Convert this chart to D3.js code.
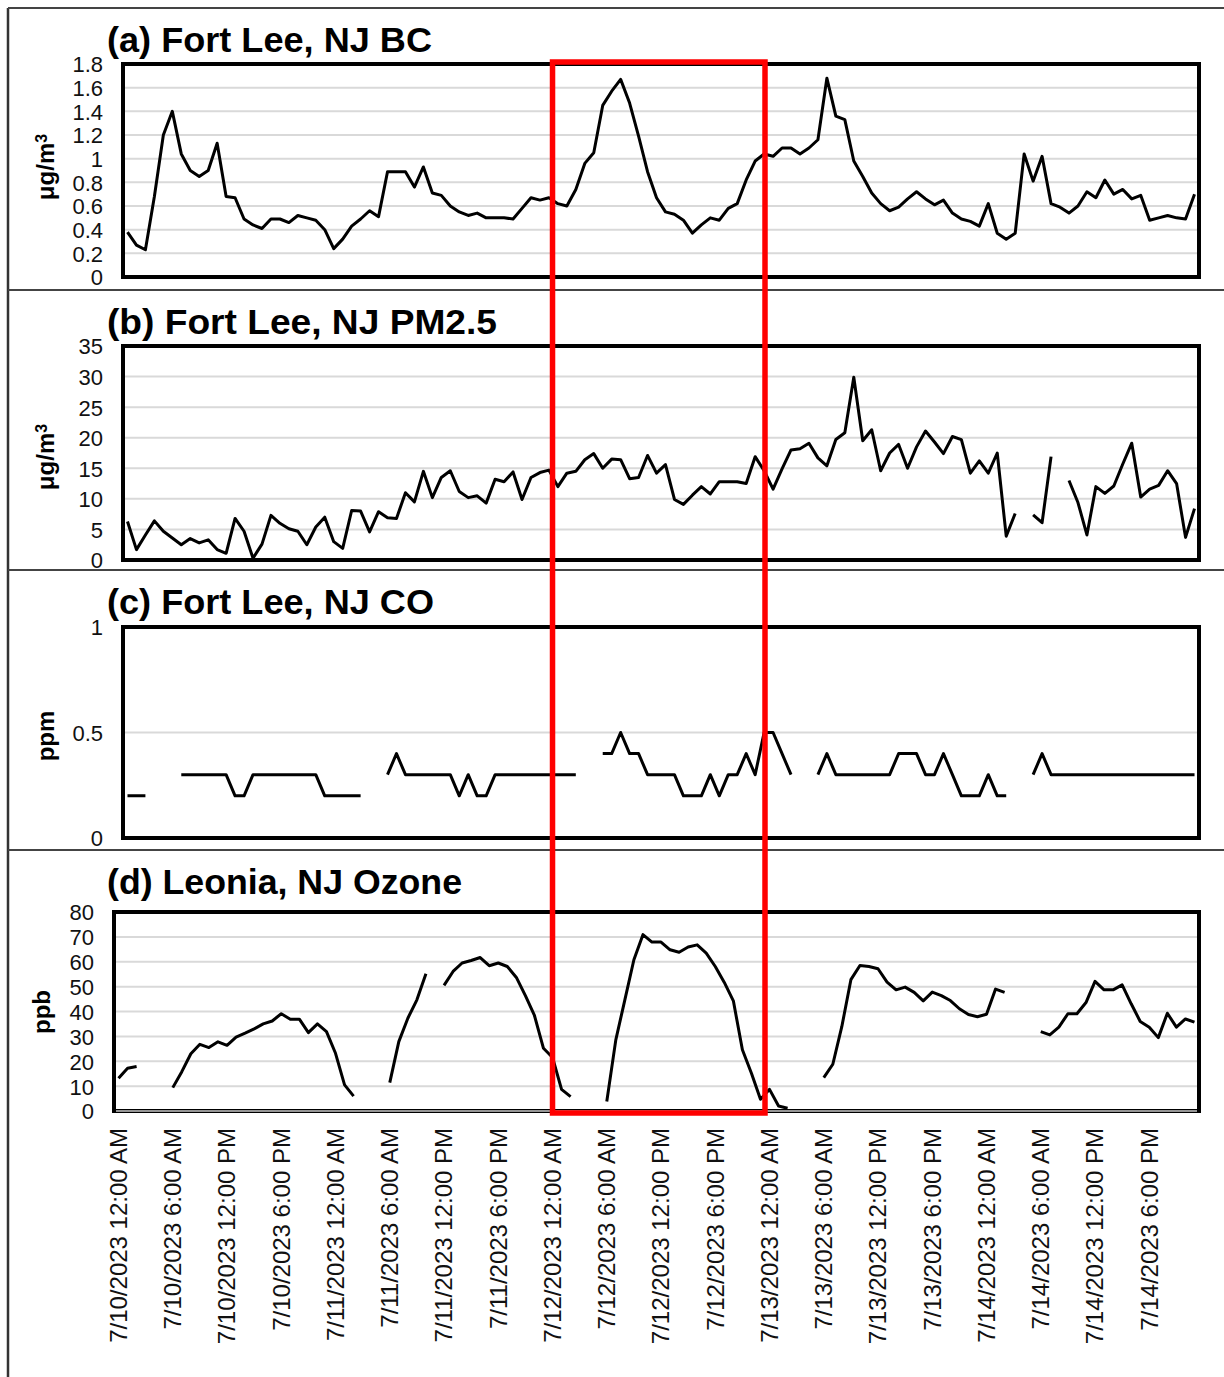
<!DOCTYPE html>
<html>
<head>
<meta charset="utf-8">
<script src="https://cdn.jsdelivr.net/npm/d3@7"></script>
<style>
  body { margin: 0; background: #fff; }
  svg { display: block; }
</style>
</head>
<body>
<svg id="chart" width="1224" height="1377"></svg>
<script>
// ---------------- DATA ----------------
const days = ["7/10/2023", "7/11/2023", "7/12/2023", "7/13/2023", "7/14/2023"];

const tickLabels = [
  "7/10/2023 12:00 AM", "7/10/2023 6:00 AM", "7/10/2023 12:00 PM", "7/10/2023 6:00 PM",
  "7/11/2023 12:00 AM", "7/11/2023 6:00 AM", "7/11/2023 12:00 PM", "7/11/2023 6:00 PM",
  "7/12/2023 12:00 AM", "7/12/2023 6:00 AM", "7/12/2023 12:00 PM", "7/12/2023 6:00 PM",
  "7/13/2023 12:00 AM", "7/13/2023 6:00 AM", "7/13/2023 12:00 PM", "7/13/2023 6:00 PM",
  "7/14/2023 12:00 AM", "7/14/2023 6:00 AM", "7/14/2023 12:00 PM", "7/14/2023 6:00 PM"
];

// Black carbon, ug/m3 (hourly)
const bc = [
  0.38, 0.27, 0.23, 0.68, 1.20, 1.40, 1.04, 0.90, 0.85, 0.90, 1.13, 0.68,
  0.67, 0.49, 0.44, 0.41, 0.49, 0.49, 0.46, 0.52, 0.50, 0.48, 0.40, 0.24,
  0.32, 0.43, 0.49, 0.56, 0.51, 0.89, 0.89, 0.89, 0.76, 0.93, 0.71, 0.69,
  0.60, 0.55, 0.52, 0.54, 0.50, 0.50, 0.50, 0.49, 0.58, 0.67, 0.65, 0.67,
  0.62, 0.60, 0.74, 0.96, 1.05, 1.45, 1.57, 1.67, 1.47, 1.19, 0.89, 0.67,
  0.55, 0.53, 0.48, 0.37, 0.44, 0.50, 0.48, 0.58, 0.62, 0.82, 0.98, 1.04,
  1.02, 1.09, 1.09, 1.04, 1.09, 1.16, 1.68, 1.36, 1.33, 0.98, 0.85, 0.71,
  0.62, 0.56, 0.59, 0.66, 0.72, 0.66, 0.61, 0.65, 0.54, 0.49, 0.47, 0.43,
  0.62, 0.37, 0.32, 0.37, 1.04, 0.81, 1.02, 0.62, 0.59, 0.54, 0.60, 0.72,
  0.67, 0.82, 0.70, 0.74, 0.66, 0.69, 0.48, 0.50, 0.52, 0.50, 0.49, 0.70
];

// PM2.5, ug/m3 (hourly; null = missing)
const pm25 = [
  6.3, 1.7, 4.1, 6.4, 4.7, 3.6, 2.5, 3.5, 2.8, 3.3, 1.7, 1.1,
  6.8, 4.7, 0.3, 2.6, 7.3, 6.0, 5.1, 4.7, 2.5, 5.4, 7.0, 3.0,
  1.9, 8.1, 8.0, 4.6, 7.9, 6.9, 6.8, 11.0, 9.5, 14.5, 10.2, 13.5,
  14.6, 11.2, 10.2, 10.5, 9.3, 13.2, 12.8, 14.4, 9.9, 13.5, 14.3, 14.7,
  12.0, 14.2, 14.5, 16.4, 17.4, 15.0, 16.5, 16.4, 13.3, 13.5, 17.1, 14.2,
  15.6, 9.9, 9.1, 10.6, 12.0, 10.8, 12.8, 12.8, 12.8, 12.5, 16.9, 14.6,
  11.6, 14.9, 18.0, 18.2, 19.1, 16.7, 15.4, 19.7, 20.8, 29.9, 19.5, 21.3,
  14.6, 17.5, 18.9, 15.0, 18.5, 21.1, 19.3, 17.4, 20.2, 19.7, 14.2, 16.2,
  14.2, 17.5, 3.9, 7.6, null, 7.4, 6.1, 16.9, null, 13.0, 9.4, 4.1,
  12.0, 10.9, 12.1, 15.7, 19.1, 10.3, 11.6, 12.2, 14.6, 12.5, 3.7, 8.4
];

// CO, ppm (hourly; null = missing)
const co = [
  0.2, 0.2, 0.2, null, null, null, 0.3, 0.3, 0.3, 0.3, 0.3, 0.3,
  0.2, 0.2, 0.3, 0.3, 0.3, 0.3, 0.3, 0.3, 0.3, 0.3, 0.2, 0.2,
  0.2, 0.2, 0.2, null, null, 0.3, 0.4, 0.3, 0.3, 0.3, 0.3, 0.3,
  0.3, 0.2, 0.3, 0.2, 0.2, 0.3, 0.3, 0.3, 0.3, 0.3, 0.3, 0.3,
  0.3, 0.3, 0.3, null, null, 0.4, 0.4, 0.5, 0.4, 0.4, 0.3, 0.3,
  0.3, 0.3, 0.2, 0.2, 0.2, 0.3, 0.2, 0.3, 0.3, 0.4, 0.3, 0.5,
  0.5, 0.4, 0.3, null, null, 0.3, 0.4, 0.3, 0.3, 0.3, 0.3, 0.3,
  0.3, 0.3, 0.4, 0.4, 0.4, 0.3, 0.3, 0.4, 0.3, 0.2, 0.2, 0.2,
  0.3, 0.2, 0.2, null, null, 0.3, 0.4, 0.3, 0.3, 0.3, 0.3, 0.3,
  0.3, 0.3, 0.3, 0.3, 0.3, 0.3, 0.3, 0.3, 0.3, 0.3, 0.3, 0.3
];

// Ozone, ppb (hourly; null = missing)
const ozone = [
  13.2, 17.2, 17.9, null, null, null, 9.4, 15.8, 23.0, 26.8, 25.5, 27.8,
  26.4, 29.7, 31.3, 33.0, 35.0, 36.2, 39.1, 36.9, 36.9, 31.5, 35.0, 31.9,
  23.2, 10.5, 6.0, null, null, null, 11.4, 27.9, 37.3, 44.7, 55.2, null,
  50.5, 56.1, 59.5, 60.5, 61.7, 58.4, 59.5, 58.1, 53.7, 46.4, 38.4, 25.2,
  21.5, 8.7, 5.8, null, null, null, 3.8, 28.6, 44.7, 60.8, 70.9, 67.9,
  67.9, 64.8, 63.8, 65.9, 66.8, 63.5, 58.1, 51.7, 44.3, 24.6, 15.2, 4.7,
  8.7, 2.0, 1.1, null, null, null, 13.4, 18.8, 34.0, 52.8, 58.5, 58.1,
  57.2, 51.8, 48.7, 49.8, 47.7, 44.3, 47.8, 46.4, 44.4, 41.1, 38.8, 37.9,
  38.9, 49.0, 47.7, null, null, null, 31.9, 30.6, 33.7, 39.1, 39.1, 43.6,
  52.1, 48.7, 48.7, 50.7, 43.1, 36.0, 33.7, 29.5, 39.3, 33.7, 37.0, 35.7
];

const bcTicks = [0, 0.2, 0.4, 0.6, 0.8, 1, 1.2, 1.4, 1.6, 1.8];
const pmTicks = [0, 5, 10, 15, 20, 25, 30, 35];
const coTicks = [0, 0.5, 1];
const o3Ticks = [0, 10, 20, 30, 40, 50, 60, 70, 80];

const panelTitles = ["(a) Fort Lee, NJ BC", "(b) Fort Lee, NJ PM2.5", "(c) Fort Lee, NJ CO", "(d) Leonia, NJ Ozone"];
const unitLabels = [["μg/m", "3"], ["μg/m", "3"], ["ppm", ""], ["ppb", ""]];
const highlight = ["7/12/2023 12:00 AM", "7/13/2023 12:00 AM"];

// hourly categories
const hourName = h => `${(h % 12 === 0 ? 12 : h % 12)}:00 ${h < 12 ? "AM" : "PM"}`;
const categories = days.flatMap(d => d3.range(24).map(h => `${d} ${hourName(h)}`));

// ---------------- LAYOUT ----------------
const layout = [
  { box: [123, 1199, 64, 277],  titleY: 52,  titleW: 325, unitX: 46, unitY: 167,  data: bc,    ticks: bcTicks },
  { box: [123, 1199, 346, 560], titleY: 334, titleW: 390, unitX: 46, unitY: 457,  data: pm25,  ticks: pmTicks },
  { box: [123, 1199, 627, 838], titleY: 614, titleW: 327, unitX: 46, unitY: 736,  data: co,    ticks: coTicks },
  { box: [114, 1199, 912, 1111],titleY: 894, titleW: 355, unitX: 42, unitY: 1012, data: ozone, ticks: o3Ticks }
];

const svg = d3.select("#chart");
const tickFont = "'Liberation Sans', Arial, Helvetica, sans-serif";
const titleFont = "'Liberation Sans Narrow', 'Arial Narrow', 'Liberation Sans', Arial, sans-serif";

// outer frame & separators
svg.append("line").attr("x1", 8).attr("x2", 8).attr("y1", 8).attr("y2", 1377)
  .attr("stroke", "#333").attr("stroke-width", 2.5);
[8, 290, 570, 850].forEach(y => {
  svg.append("line").attr("x1", 8).attr("x2", 1224).attr("y1", y).attr("y2", y)
    .attr("stroke", "#444").attr("stroke-width", 2);
});

let xLast;
layout.forEach((p, k) => {
  const [x0, x1, y0, y1] = p.box;
  const x = d3.scaleBand().domain(categories).range([x0, x1]).padding(0);
  const y = d3.scaleLinear().domain([0, d3.max(p.ticks)]).range([y1, y0]);
  const bw = x.bandwidth();
  const g = svg.append("g");

  // gridlines
  g.selectAll(".grid").data(p.ticks.filter(t => t > 0 && t < d3.max(p.ticks)))
    .join("line")
    .attr("x1", x0).attr("x2", x1)
    .attr("y1", d => y(d)).attr("y2", d => y(d))
    .attr("stroke", "#d9d9d9").attr("stroke-width", 2);

  // series
  const line = d3.line()
    .defined(d => d != null)
    .x((d, i) => x(categories[i]) + bw / 2)
    .y(d => y(d));
  g.append("path").datum(p.data)
    .attr("d", line)
    .attr("fill", "none").attr("stroke", "#000").attr("stroke-width", 3)
    .attr("stroke-linejoin", "round");

  // plot box
  g.append("rect").attr("x", x0).attr("y", y0).attr("width", x1 - x0).attr("height", y1 - y0)
    .attr("fill", "none").attr("stroke", "#000").attr("stroke-width", 4);
  if (k === 3) {
    g.append("line").attr("x1", x0 + 2).attr("x2", x1 - 2).attr("y1", y1).attr("y2", y1)
      .attr("stroke", "#c8c8c8").attr("stroke-width", 1.6);
  }

  // y axis labels
  const yAxis = d3.axisLeft(y).tickValues(p.ticks).tickSize(0).tickPadding(0)
    .tickFormat(d => String(+d.toFixed(1)));
  const ya = g.append("g").attr("transform", `translate(${x0 - 20},0)`).call(yAxis);
  ya.select(".domain").remove();
  ya.selectAll("text").attr("font-family", tickFont).attr("font-size", 22)
    .attr("fill", "#111").attr("dy", "0.36em");

  // title
  g.append("text").attr("x", 107).attr("y", p.titleY)
    .attr("font-family", titleFont).attr("font-weight", "bold").attr("font-size", 35)
    .attr("textLength", p.titleW).attr("lengthAdjust", "spacingAndGlyphs")
    .attr("fill", "#000").text(panelTitles[k]);

  // unit label
  const ut = g.append("text")
    .attr("transform", `translate(${p.unitX},${p.unitY}) rotate(-90)`)
    .attr("text-anchor", "middle").attr("dy", "0.35em")
    .attr("font-family", tickFont).attr("font-weight", "bold").attr("font-size", 24)
    .attr("fill", "#000");
  ut.append("tspan").text(unitLabels[k][0]);
  if (unitLabels[k][1]) {
    ut.append("tspan").attr("dy", "-0.45em").attr("font-size", 16).text(unitLabels[k][1]);
  }

  if (k === 3) {
    xLast = x;
    const xAxis = d3.axisBottom(x).tickValues(tickLabels).tickSize(0);
    const xa = g.append("g").attr("transform", `translate(0,${y1})`).call(xAxis);
    xa.select(".domain").remove();
    xa.selectAll("text")
      .attr("transform", "rotate(-90)")
      .attr("text-anchor", "end")
      .attr("x", -17).attr("y", 0).attr("dy", "0.35em")
      .attr("font-family", tickFont).attr("font-size", 24).attr("fill", "#111");
  }
});

// red highlight box (7/12 00:00 to 7/13 00:00)
const hx0 = xLast(highlight[0]) + xLast.bandwidth() / 2;
const hx1 = xLast(highlight[1]);
svg.append("rect")
  .attr("x", hx0).attr("y", 62)
  .attr("width", hx1 - hx0).attr("height", 1113 - 62)
  .attr("fill", "none").attr("stroke", "#ff0000").attr("stroke-width", 5.5);
</script>
</body>
</html>
